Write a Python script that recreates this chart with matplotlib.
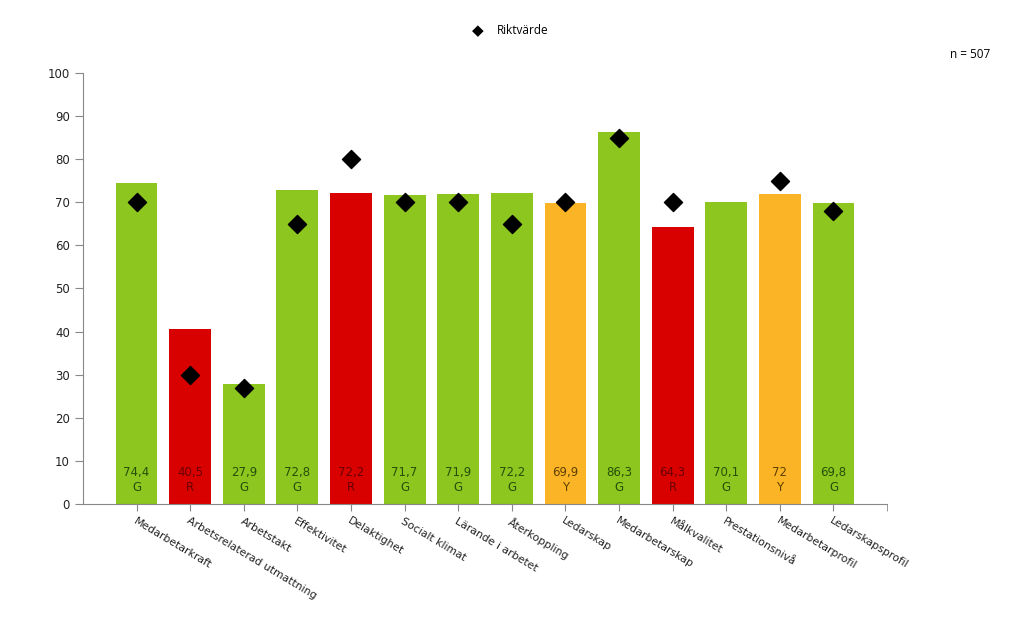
import numpy as np
import matplotlib.pyplot as plt

categories = ['Medarbetarkraft', 'Arbetsrelaterad utmattning', 'Arbetstakt', 'Effektivitet',
              'Delaktighet', 'Socialt klimat', 'Lärande i arbetet', 'Återkoppling', 'Ledarskap',
              'Medarbetarskap', 'Målkvalitet', 'Prestationsnivå', 'Medarbetarprofil',
              'Ledarskapsprofil']
values = [74.4, 40.5, 27.9, 72.8, 72.2, 71.7, 71.9, 72.2, 69.9, 86.3, 64.3, 70.1, 72, 69.8]
value_labels = ['74,4', '40,5', '27,9', '72,8', '72,2', '71,7', '71,9', '72,2', '69,9', '86,3',
                '64,3', '70,1', '72', '69,8']
grades = ['G', 'R', 'G', 'G', 'R', 'G', 'G', 'G', 'Y', 'G', 'R', 'G', 'Y', 'G']
riktvarde = [70, 30, 27, 65, 80, 70, 70, 65, 70, 85, 70, np.nan, 75, 68]

bar_colors = {'G': '#8cc61e', 'R': '#d90000', 'Y': '#fbb426'}
text_colors = {'G': '#24500a', 'R': '#6a0000', 'Y': '#5e4000'}

fig = plt.figure(figsize=(10.23, 6.29), dpi=100)
ax = fig.add_axes([0.0811, 0.1987, 0.786, 0.6853])

x = np.arange(len(categories))
ax.bar(x, values, width=0.78, color=[bar_colors[g] for g in grades], zorder=2)
ax.scatter(x, riktvarde, marker='D', s=85, color='black', zorder=3)

for xi, lab, g in zip(x, value_labels, grades):
    ax.text(xi, 5.5, lab + '\n' + g, ha='center', va='center', fontsize=8.5,
            color=text_colors[g], linespacing=1.2, zorder=4)

ax.set_xlim(-1, 14)
ax.set_ylim(0, 100)
ax.set_yticks(np.arange(0, 101, 10))
ax.set_xticks(x)
ax.set_xticklabels(categories, rotation=-31, ha='left', va='top', rotation_mode='anchor',
                   fontsize=7.8, color='#222222')
ax.set_xticks([14], minor=True)
ax.tick_params(axis='y', labelsize=8.5, color='#888888', length=6, labelcolor='#222222')
ax.tick_params(axis='x', which='both', color='#888888', length=5)
for side in ['top', 'right']:
    ax.spines[side].set_visible(False)
for side in ['left', 'bottom']:
    ax.spines[side].set_color('#888888')

fig.text(478 / 1023, 1 - 31 / 629, '\u25c6', ha='center', va='center', fontsize=11,
         family=['DejaVu Sans'])
fig.text(497 / 1023, 1 - 31 / 629, 'Riktvärde', ha='left', va='center', fontsize=8.5,
         family=['Open Sans'])
fig.text(990 / 1023, 1 - 55 / 629, 'n = 507', ha='right', va='center', fontsize=8.5,
         family=['Open Sans'])

fig.savefig('out.png', dpi=100)
plt.close(fig)
